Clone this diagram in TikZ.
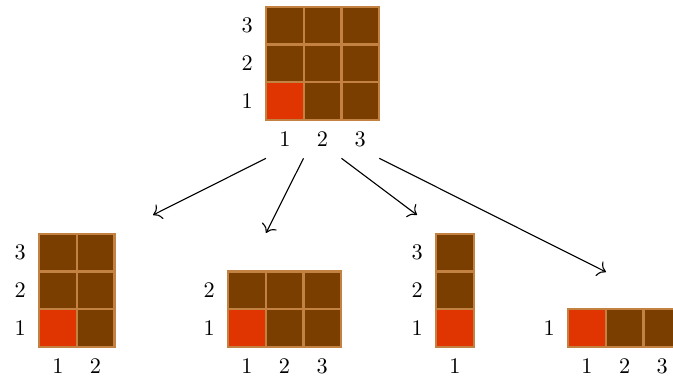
\documentclass[tikz,border=0pt]{standalone}
\usetikzlibrary{arrows.meta}
\definecolor{cellfill}{RGB}{122,63,0}
\definecolor{cellred}{RGB}{224,53,0}
\definecolor{celledge}{RGB}{196,130,66}
\tikzset{
  cellbox/.style={fill=cellfill,draw=celledge,line width=1pt},
  redbox/.style={fill=cellred,draw=celledge,line width=1pt},
  lab/.style={inner sep=0pt,font=\normalsize},
  conn/.style={-{To[scale=1.3]},line width=0.5pt}
}
\newcommand\mygrid[5]{%
  \begin{scope}[shift={(#2,#3)},x=0.5955cm,y=0.5955cm]
    \foreach \i in {1,...,#4}{\foreach \j in {1,...,#5}{\filldraw[cellbox] (\i-1,\j-1) rectangle (\i,\j);}}
    \filldraw[redbox] (0,0) rectangle (1,1);
    \foreach \j in {1,...,#5}{\node[lab] (#1-r\j) at (-0.5,\j-0.5) {\j};}
    \foreach \i in {1,...,#4}{\node[lab] (#1-c\i) at (\i-0.5,-0.5) {\i};}
  \end{scope}}
\begin{document}
\begin{tikzpicture}[x=0.015795cm,y=-0.015795cm]
\useasboundingbox (0,0) rectangle (673,378);
\mygrid{top}{266}{120}{3}{3}
\mygrid{ga}{39}{347}{2}{3}
\mygrid{gb}{228}{347}{3}{2}
\mygrid{gc}{436}{347}{1}{3}
\mygrid{gd}{568}{347}{3}{1}
\coordinate (s1) at (266,158.3);
\coordinate (s2) at (303.5,158.3);
\coordinate (s3) at (341.5,158.3);
\coordinate (s4) at (379.3,158.3);
\coordinate (e1) at (153,215);
\coordinate (e2) at (266,233);
\coordinate (e3) at (417,215);
\coordinate (e4) at (606,272);
\draw[conn] (s1) -- (e1);
\draw[conn] (s2) -- (e2);
\draw[conn] (s3) -- (e3);
\draw[conn] (s4) -- (e4);
\end{tikzpicture}
\end{document}
